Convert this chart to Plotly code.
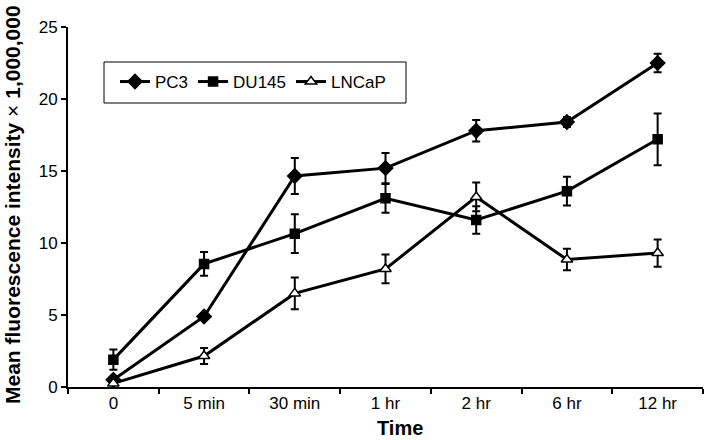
import plotly.graph_objects as go

categories = ["0", "5 min", "30 min", "1 hr", "2 hr", "6 hr", "12 hr"]
pc3 = [0.5, 4.9, 14.65, 15.2, 17.8, 18.4, 22.5]
pc3_err = [0.1, 0.1, 1.25, 1.05, 0.75, 0.35, 0.65]
du145 = [1.9, 8.55, 10.65, 13.1, 11.6, 13.6, 17.2]
du145_err = [0.7, 0.83, 1.35, 1.0, 0.95, 1.0, 1.8]
lncap = [0.25, 2.15, 6.5, 8.2, 13.2, 8.85, 9.3]
lncap_err = [0.1, 0.55, 1.1, 1.0, 1.0, 0.75, 0.95]
y_ticks = [0, 5, 10, 15, 20, 25]

FONT = "Liberation Sans, Arial, sans-serif"

fig = go.Figure()

def add(name, vals, errs, symbol, fill, size):
    fig.add_trace(go.Scatter(
        x=categories, y=vals, name=name, mode="lines+markers",
        line=dict(color="black", width=3),
        marker=dict(symbol=symbol, size=size, color=fill,
                    line=dict(color="black", width=1.5)),
        error_y=dict(type="data", array=errs, visible=True,
                     color="black", thickness=2, width=4),
        cliponaxis=False,
    ))

add("PC3", pc3, pc3_err, "diamond", "black", 11)
add("DU145", du145, du145_err, "square", "black", 9)
add("LNCaP", lncap, lncap_err, "triangle-up", "white", 10)

L, R, T, B = 68, 2, 27, 53
PW, PH = 705 - L - R, 440 - T - B

def px(xp):
    return (xp - L) / PW

def py(yp):
    return (T + PH - yp) / PH

fig.update_layout(
    width=705, height=440,
    margin=dict(l=L, r=R, t=T, b=B),
    paper_bgcolor="white", plot_bgcolor="white",
    font=dict(family=FONT, size=17, color="black"),
    showlegend=True,
    legend=dict(orientation="h", x=px(115), y=py(82), xanchor="left", yanchor="middle",
                borderwidth=0, bgcolor="rgba(0,0,0,0)",
                font=dict(size=17), itemwidth=30),
    shapes=[dict(type="rect", xref="paper", yref="paper",
                 x0=px(104), x1=px(406), y0=py(103), y1=py(62),
                 line=dict(color="black", width=1), fillcolor="rgba(0,0,0,0)")],
    annotations=[
        dict(text="<b>Time</b>", xref="paper", yref="paper", x=px(400), y=py(428),
             xanchor="center", yanchor="middle", showarrow=False, font=dict(size=20)),
        dict(text="<b>Mean fluorescence intensity</b> × <b>1,000,000</b>",
             xref="paper", yref="paper", x=px(12), y=py(205), textangle=-90,
             xanchor="center", yanchor="middle", showarrow=False, font=dict(size=21)),
    ],
    xaxis=dict(
        type="category", categoryorder="array", categoryarray=categories,
        range=[-0.5, 6.5], showline=True, linecolor="black", linewidth=2,
        ticks="outside", tickson="boundaries", ticklen=5, tickwidth=2, tickcolor="black",
        showgrid=False, zeroline=False,
    ),
    yaxis=dict(
        range=[0, 25], tickvals=y_ticks, showline=True, linecolor="black", linewidth=2,
        ticks="outside", ticklen=5, tickwidth=2, tickcolor="black",
        showgrid=False, zeroline=False,
    ),
)

fig.write_html("out.html", config={"displayModeBar": False},
               post_script="document.body.style.margin='0';document.body.style.overflow='hidden';")
